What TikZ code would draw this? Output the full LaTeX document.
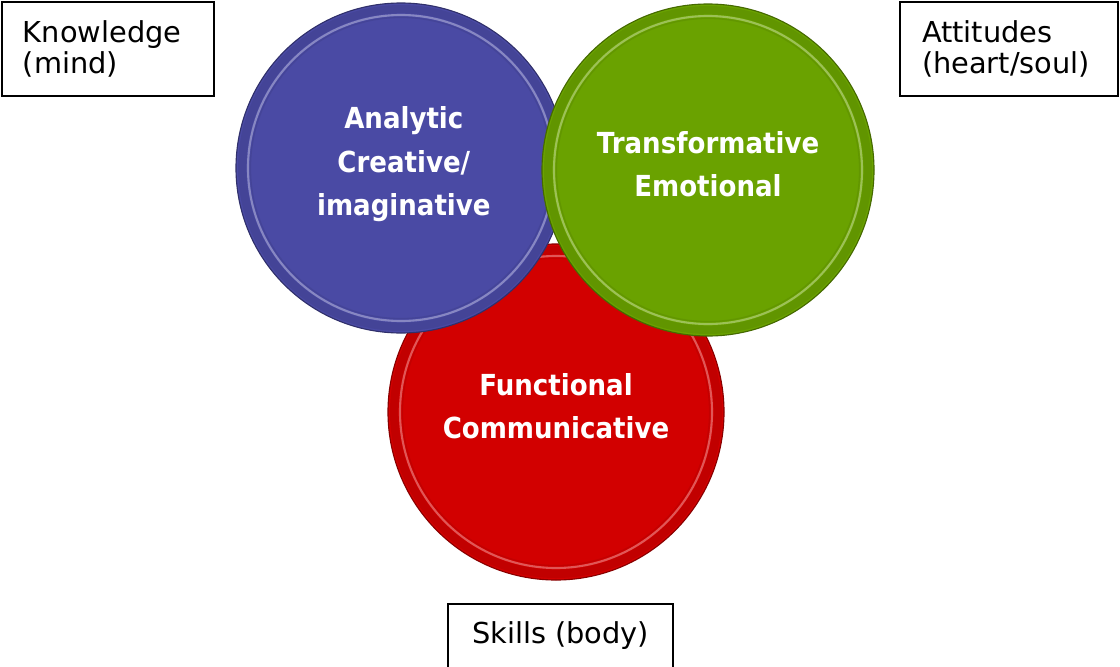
\documentclass[tikz,border=0pt]{standalone}
\usepackage{fontspec}
\usepackage{xcolor}
\usepackage{tikz}
\setmainfont{DejaVu Sans}
\newfontface\discface[FakeStretch=0.9]{DejaVu Sans Bold}
\definecolor{discblue}{RGB}{74,74,164}
\definecolor{discgreen}{RGB}{106,162,0}
\definecolor{discred}{RGB}{210,0,0}

\begin{document}
\begin{tikzpicture}[
			line width=0.8pt,
			disc/.style 2 args={circle, inner sep=0pt, minimum size=#2, fill=#1,
					draw=#1!65!black, line width=0.8pt,
					path picture={
							\fill[#1!92!black, even odd rule] (path picture bounding box.center)
							circle ({#2/2-0.05cm}) circle ({#2/2-0.26cm}); % outer band
							\draw[#1!55!white, line width=1.5pt, opacity=.75]
							(path picture bounding box.center) circle ({#2/2-0.3cm}); % highlight
							\draw[#1!80!black, line width=1pt, opacity=.35]
							(path picture bounding box.center) circle ({#2/2-0.36cm}); % its shadow
						}},
			disctext/.style={text=white, align=center, inner sep=0pt,
					font=\discface\fontsize{20.6}{31}\selectfont},
			tag/.style={draw, line width=0.9pt, inner ysep=0pt, align=left,
					font=\fontsize{20.5}{21.5}\selectfont}, % plain framed label
		]
		\useasboundingbox (0,0) rectangle (28,-16.65);
		\clip (0,0) rectangle (28,-16.65);

		% --- the three discs, red underneath
		\node[disc={discred}{8.4cm}] (func) at (13.9,-10.3) {};
		\node[disc={discblue}{8.25cm}] (ana) at (10.025,-4.2) {};
		\node[disc={discgreen}{8.3cm}] (trans) at (17.7,-4.25) {};

		% --- their captions, set a little above centre
		\node[disctext] (func-t) at ([yshift=4pt]func) {Functional\\Communicative};
		\node[disctext] (ana-t) at ([xshift=2pt,yshift=2.5pt]ana) {Analytic\\Creative/\\imaginative};
		\node[disctext] (trans-t) at ([yshift=4pt]trans) {Transformative\\Emotional};

		% --- the framed labels in the corners and at the foot
		\node[tag, inner xsep=0.525cm, text width=4.25cm, minimum height=2.35cm]
		(know) at (2.7,-1.225) {Knowledge\\(mind)};
		\node[tag, inner xsep=0.55cm, text width=4.35cm, minimum height=2.35cm]
		(att) at (25.225,-1.225) {Attitudes\\(heart/soul)};
		\node[tag, align=center, minimum width=5.625cm, minimum height=1.6cm]
		(skill) at (14.0125,-15.9) {Skills (body)};
	\end{tikzpicture}
\end{document}
